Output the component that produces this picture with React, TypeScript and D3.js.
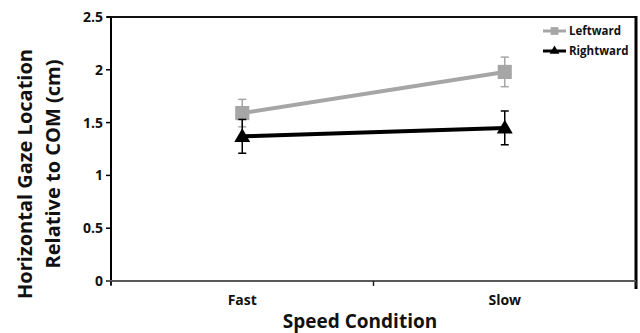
import React from 'react';
import * as d3 from 'd3';

const categories = ['Fast', 'Slow'];
const leftward = [1.59, 1.98];
const leftwardErr = [0.13, 0.14];
const rightward = [1.37, 1.45];
const rightwardErr = [0.16, 0.16];
const yTicks = [0, 0.5, 1, 1.5, 2, 2.5];

const W = 640;
const H = 333;
const margin = { top: 17, right: 4, bottom: 52, left: 111 };
const FONT = '"Open Sans", "Noto Sans", sans-serif';

const x = d3
  .scaleBand<string>()
  .domain(categories)
  .range([margin.left, W - margin.right]);
const y = d3
  .scaleLinear()
  .domain([0, 2.5])
  .range([H - margin.bottom, margin.top]);

const series = [
  { name: 'Leftward', values: leftward, err: leftwardErr, color: '#a6a6a6', marker: 'square' },
  { name: 'Rightward', values: rightward, err: rightwardErr, color: '#000000', marker: 'triangle' },
];

const triangle = d3.symbol().type(d3.symbolTriangle).size(110)();
const square = d3.symbol().type(d3.symbolSquare).size(200)();

export default function App() {
  const cx = (c: string) => (x(c) as number) + x.bandwidth() / 2;
  const line = d3
    .line<number>()
    .x((_, i) => cx(categories[i]))
    .y((d) => y(d));
  const bottom = H - margin.bottom;
  const xTickPos = [margin.left, ...categories.map((c) => (x(c) as number) + x.bandwidth())];

  return (
    <svg width={W} height={H} style={{ position: 'absolute', left: 0, top: 0, background: '#fff' }} fontFamily={FONT}>
      {/* frame top / right */}
      <line x1={margin.left - 4} x2={W - margin.right} y1={margin.top} y2={margin.top} stroke="#111" strokeWidth={2} />
      <line x1={W - margin.right} x2={W - margin.right} y1={margin.top - 1} y2={bottom + 8} stroke="#000" strokeWidth={3} />

      {/* y axis */}
      <line x1={margin.left} x2={margin.left} y1={margin.top} y2={bottom + 4} stroke="#000" strokeWidth={2} />
      {yTicks.map((t) => (
        <g key={t}>
          <line x1={margin.left - 5} x2={margin.left} y1={y(t)} y2={y(t)} stroke="#000" strokeWidth={1.5} />
          <text x={margin.left - 8} y={y(t)} dy="0.35em" textAnchor="end" fontSize={14} fontWeight="bold" fill="#111">
            {t}
          </text>
        </g>
      ))}

      {/* x axis */}
      <line x1={margin.left - 4} x2={W - margin.right} y1={bottom} y2={bottom} stroke="#595959" strokeWidth={2} />
      {xTickPos.map((p, i) => (
        <line key={i} x1={p} x2={p} y1={bottom} y2={bottom + 5} stroke="#222" strokeWidth={1.5} />
      ))}
      {categories.map((c) => (
        <text key={c} x={cx(c)} y={bottom + 24} textAnchor="middle" fontSize={14} fontWeight="bold" fill="#111">
          {c}
        </text>
      ))}

      <text x={360} y={328} textAnchor="middle" fontSize={19} fontWeight="bold" fill="#111">
        Speed Condition
      </text>
      <text transform="translate(25,174) rotate(-90)" textAnchor="middle" dy="0.35em" fontSize={20} fontWeight="bold" fill="#111">
        Horizontal Gaze Location
      </text>
      <text transform="translate(53,164) rotate(-90)" textAnchor="middle" dy="0.35em" fontSize={20} fontWeight="bold" fill="#111">
        Relative to COM (cm)
      </text>

      {/* series */}
      {series.map((s) => (
        <g key={s.name}>
          <path d={line(s.values) as string} fill="none" stroke={s.color} strokeWidth={4} />
          {s.values.map((v, i) => {
            const px = cx(categories[i]);
            const hi = y(v + s.err[i]);
            const lo = y(v - s.err[i]);
            return (
              <g key={i}>
                <line x1={px} x2={px} y1={hi} y2={lo} stroke={s.color} strokeWidth={1.5} />
                <line x1={px - 4} x2={px + 4} y1={hi} y2={hi} stroke={s.color} strokeWidth={1.5} />
                <line x1={px - 4} x2={px + 4} y1={lo} y2={lo} stroke={s.color} strokeWidth={1.5} />
                <path
                  d={s.marker === 'square' ? square : triangle}
                  transform={`translate(${px},${y(v) + (s.marker === 'triangle' ? 1 : 0)})`}
                  fill={s.color}
                />
              </g>
            );
          })}
        </g>
      ))}

      {/* legend */}
      {series.map((s, i) => {
        const ly = 31 + i * 20;
        return (
          <g key={s.name}>
            <line x1={543} x2={566} y1={ly} y2={ly} stroke={s.color} strokeWidth={3} />
            <path
              d={d3.symbol().type(s.marker === 'square' ? d3.symbolSquare : d3.symbolTriangle).size(s.marker === 'square' ? 60 : 40)() as string}
              transform={`translate(554.5,${ly})`}
              fill={s.color}
            />
            <text x={569} y={ly} dy="0.35em" fontSize={11.5} fontWeight="bold" fill="#111">
              {s.name}
            </text>
          </g>
        );
      })}
    </svg>
  );
}
